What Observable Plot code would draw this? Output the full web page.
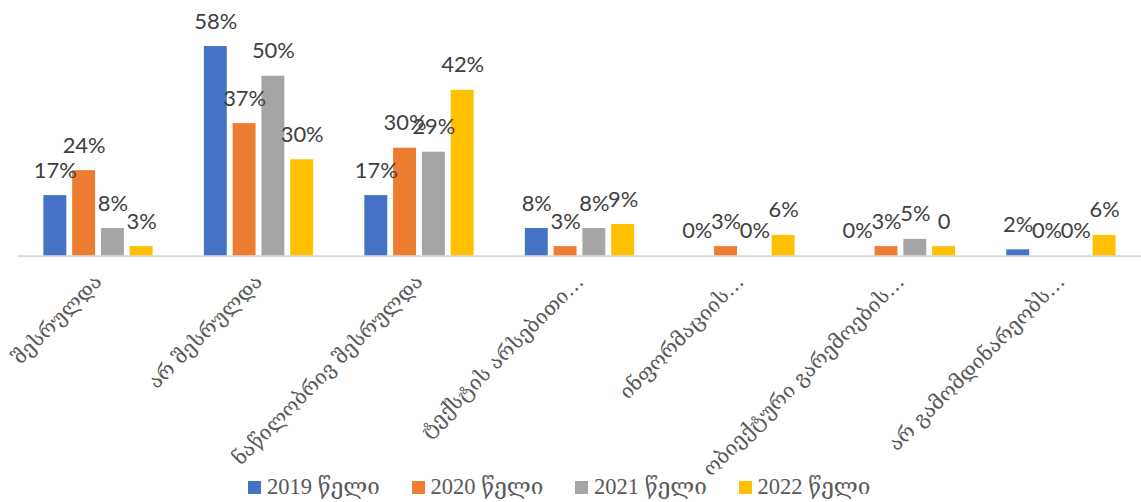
<!DOCTYPE html>
<html>
<head>
<meta charset="utf-8">
<script src="https://cdn.jsdelivr.net/npm/d3@7"></script>
<script src="https://cdn.jsdelivr.net/npm/@observablehq/plot@0.6"></script>
<style>
  html, body { margin: 0; padding: 0; background: #fff; overflow: hidden; }
  #wrap { position: relative; width: 1141px; height: 502px; overflow: hidden; }
  #chart svg { overflow: visible; }
  #legend { position: absolute; left: 248px; top: 472px; display: flex; font-family: "Liberation Serif", "DejaVu Serif", serif; font-size: 22.5px; color: #595959; line-height: 30px; }
  .item { display: flex; align-items: center; width: 163.5px; white-space: nowrap; }
  .sw { width: 13px; height: 13px; margin-right: 6px; flex: none; }
</style>
</head>
<body>
<div id="wrap">
  <div id="chart"></div>
  <div id="legend"></div>
</div>
<script>
const categories = [
  "შესრულდა",
  "არ შესრულდა",
  "ნაწილობრივ შესრულდა",
  "ტექსტის არსებითი…",
  "ინფორმაციის…",
  "ობიექტური გარემოების…",
  "არ გამომდინარეობს…"
];
const years = ["2019 წელი", "2020 წელი", "2021 წელი", "2022 წელი"];
const colors = ["#4472C4", "#ED7D31", "#A5A5A5", "#FFC000"];

const values2019 = [0.168, 0.58, 0.168, 0.077, 0, 0, 0.018];
const values2020 = [0.237, 0.367, 0.299, 0.027, 0.027, 0.027, 0];
const values2021 = [0.077, 0.498, 0.288, 0.077, 0, 0.047, 0];
const values2022 = [0.027, 0.267, 0.459, 0.088, 0.058, 0.027, 0.058];

const labels2019 = ["17%", "58%", "17%", "8%", "0%", "0%", "2%"];
const labels2020 = ["24%", "37%", "30%", "3%", "3%", "3%", "0%"];
const labels2021 = ["8%", "50%", "29%", "8%", "0%", "5%", "0%"];
const labels2022 = ["3%", "30%", "42%", "9%", "6%", "0", "6%"];

const seriesValues = [values2019, values2020, values2021, values2022];
const seriesLabels = [labels2019, labels2020, labels2021, labels2022];

const data = categories.flatMap((c, i) =>
  years.map((y, j) => ({category: c, year: y, value: seriesValues[j][i], label: seriesLabels[j][i]}))
);

const chart = Plot.plot({
  width: 1146,
  height: 470,
  marginLeft: 18,
  marginRight: 0,
  marginTop: 39,
  marginBottom: 213,
  style: {background: "#fff", overflow: "visible"},
  fx: {domain: categories, paddingInner: 0.246, paddingOuter: 0.122, round: false, label: null},
  x: {domain: years, padding: 0.204, round: false, axis: null},
  y: {domain: [0, 0.6], axis: null},
  color: {domain: years, range: colors},
  marks: [
    Plot.barY(data, {fx: "category", x: "year", y: "value", fill: "year"}),
    Plot.ruleY([0], {stroke: "#d9d9d9", strokeWidth: 2, insetLeft: -19.9, insetRight: -19.9}),
    Plot.text(data, {
      fx: "category", x: "year", y: "value", text: "label",
      dy: -18, lineAnchor: "bottom", fontSize: 22, fill: "#404040",
      fontFamily: "Lato, 'Open Sans', sans-serif"
    }),
    Plot.axisFx({
      anchor: "bottom", tickRotate: -45, tickSize: 0, tickPadding: 22,
      fontSize: 20.5, fill: "#595959", label: null,
      fontFamily: "'DejaVu Serif', serif"
    })
  ]
});
document.getElementById("chart").appendChild(chart);

const legend = document.getElementById("legend");
years.forEach((y, j) => {
  const it = document.createElement("div");
  it.className = "item";
  const sw = document.createElement("span");
  sw.className = "sw";
  sw.style.background = colors[j];
  const tx = document.createElement("span");
  tx.textContent = y;
  it.appendChild(sw);
  it.appendChild(tx);
  legend.appendChild(it);
});
</script>
</body>
</html>
